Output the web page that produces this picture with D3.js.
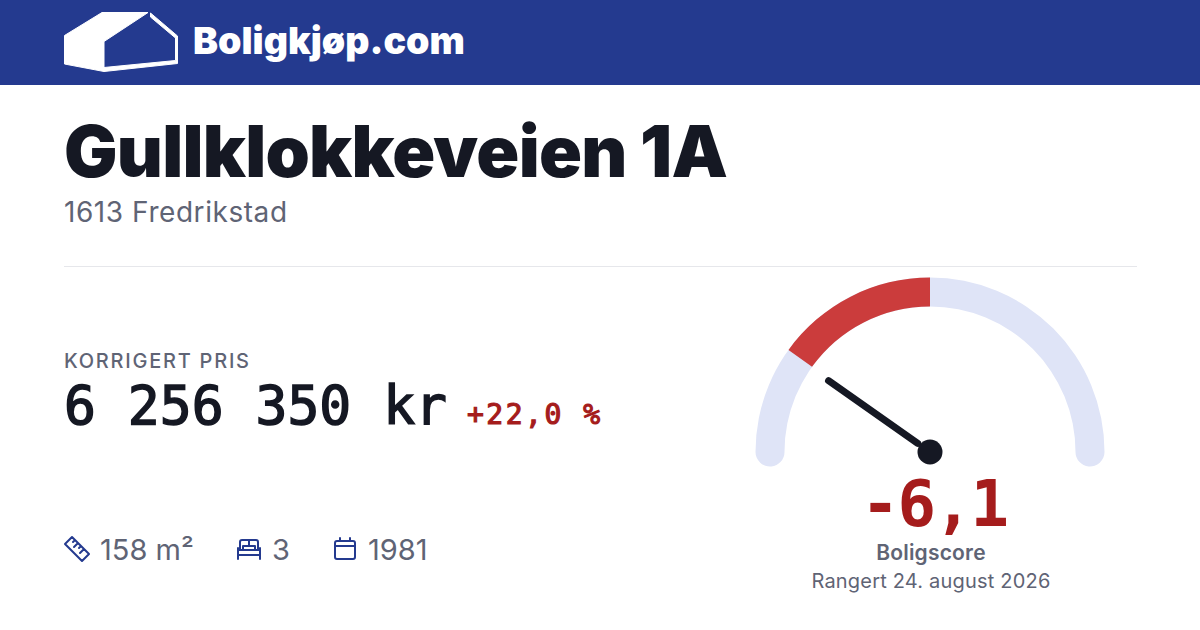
<!DOCTYPE html>
<html lang="en">
<head>
<meta charset="UTF-8">
<title>Boligkjøp score</title>
<script src="https://d3js.org/d3.v7.min.js"></script>
<style>
    html, body { margin: 0; padding: 0; background: #fff; overflow: hidden; }
    svg { display: block; }
    .sans { font-family: Inter, "Noto Sans", sans-serif; }
    .mono { font-family: "DejaVu Sans Mono", monospace; }
</style>
</head>
<body>
<svg id="card" width="1200" height="630"></svg>
<script>
// values
const brandName = "Boligkjøp.com";
const addressLines = ["Gullklokkeveien 1A", "1613 Fredrikstad"];
const priceLabel = "KORRIGERT PRIS";
const priceText = "6 256 350 kr";
const changeText = "+22,0 %";
const factKinds = ["ruler", "bed", "calendar"];
const factLabels = ["158 m²", "3", "1981"];
const scoreDomain = [-10, 10];
const scoreValue = -6.1;
const scoreArcEnd = -6.02; // the red band stops a little short of the needle
const scoreText = "-6,1";
const scoreLabels = ["Boligscore", "Rangert 24. august 2026"];

const blue = "#243a8f", ink = "#151823", grey = "#5f6475", red = "#a51c1c";

const svg = d3.select("#card");

function label(x, y, str, size, weight, fill, cls, anchor) {
    return svg.append("text")
        .attr("class", cls || "sans")
        .attr("x", x).attr("y", y)
        .attr("font-size", size)
        .attr("font-weight", weight)
        .attr("fill", fill)
        .attr("text-anchor", anchor || "start")
        .text(str);
}

// header band + logo
svg.append("rect").attr("width", 1200).attr("height", 85).attr("fill", blue);
svg.append("path").attr("fill", "#fff").attr("stroke", "#fff").attr("stroke-width", 1).attr("stroke-linejoin", "round")
    .attr("d", "M102 12.5 L148 12.5 L104 41.5 L104 67.5 L175.5 60.5 L175.5 38 L150.5 17 L150.5 13 L177.5 36 L177.5 63.5 L104 71.5 L64.5 64 L64.5 35.5 Z");
label(193, 54, brandName, 37.5, 900, "#fff");

// address
label(64, 177, addressLines[0], 71, 900, ink).attr("letter-spacing", -0.72);
label(64, 222, addressLines[1], 28, 400, grey).attr("letter-spacing", 0.56);
svg.append("line").attr("x1", 64).attr("x2", 1137).attr("y1", 266.5).attr("y2", 266.5).attr("stroke", "#e6e7eb");

// price
label(64, 368, priceLabel, 20, 500, grey).attr("letter-spacing", 1.75);
label(64, 424, priceText, 53, 400, ink, "mono").attr("textLength", 383)
    .attr("stroke", ink).attr("stroke-width", 1.5);
label(467, 424, changeText, 28, 400, red, "mono").attr("textLength", 133)
    .attr("stroke", red).attr("stroke-width", 1.2);

// facts row
const iconDraw = {
    ruler: "M-12 -5 L-5 -12 L12 5 L5 12 Z M-2 -9 L-4 -7 M1 -6 L-3 -2 M4 -3 L2 -1 M7 0 L3 4",
    bed: "M-11 10 L-11 -1 M11 10 L11 -1 M-11 6 L11 6 M-11 1 L11 1 M-9 1 L-9 -7 Q-9 -9 -7 -9 L7 -9 Q9 -9 9 -7 L9 1 M0 -9 L0 -3 M-6 1 L-6 -3 L6 -3 L6 1",
    calendar: "M-10 -6 Q-10 -8 -8 -8 L8 -8 Q10 -8 10 -6 L10 8 Q10 10 8 10 L-8 10 Q-10 10 -10 8 Z M-10 -3 L10 -3 M-5 -11 L-5 -8 M5 -11 L5 -8"
};
const factIconX = [77, 249, 345];
const factTextX = [100, 272, 368];
factKinds.forEach((kind, i) => {
    svg.append("path")
        .attr("transform", `translate(${factIconX[i]},549)`)
        .attr("d", iconDraw[kind])
        .attr("fill", "none").attr("stroke", blue).attr("stroke-width", 2)
        .attr("stroke-linecap", "round").attr("stroke-linejoin", "round");
    label(factTextX[i], 560, factLabels[i], 29, 400, grey);
});

// gauge
const cx = 930, cy = 452, midR = 160, band = 29;
const angle = d3.scaleLinear().domain(scoreDomain).range([-Math.PI / 2, Math.PI / 2]);
const gauge = svg.append("g").attr("transform", `translate(${cx},${cy})`);
const arc = d3.arc().innerRadius(midR - band / 2).outerRadius(midR + band / 2);

gauge.append("path")
    .attr("d", d3.arc().innerRadius(midR - band / 2).outerRadius(midR + band / 2).cornerRadius(band / 2)
        ({ startAngle: angle(scoreDomain[0]) - band / 2 / midR, endAngle: angle(scoreDomain[1]) + band / 2 / midR }))
    .attr("fill", "#dfe4f7");
gauge.append("path")
    .attr("d", arc({ startAngle: angle(scoreArcEnd), endAngle: angle(0) }))
    .attr("fill", "#cb3c3c");

const needleAngle = angle(scoreValue);
const needle = d3.scaleLinear().domain([0, 1]).range([15, 124]);
gauge.append("line")
    .attr("x1", needle(0) * Math.sin(needleAngle)).attr("y1", -needle(0) * Math.cos(needleAngle))
    .attr("x2", needle(1) * Math.sin(needleAngle)).attr("y2", -needle(1) * Math.cos(needleAngle))
    .attr("stroke", ink).attr("stroke-width", 7).attr("stroke-linecap", "round");
gauge.append("circle").attr("r", 12.5).attr("fill", ink);

label(935, 526, scoreText, 64, 700, red, "mono", "middle").attr("textLength", 148);
label(931, 560, scoreLabels[0], 21, 600, grey, "sans", "middle").attr("letter-spacing", 0.2);
label(931, 588, scoreLabels[1], 20, 400, grey, "sans", "middle").attr("letter-spacing", 0.2);
</script>
</body>
</html>
